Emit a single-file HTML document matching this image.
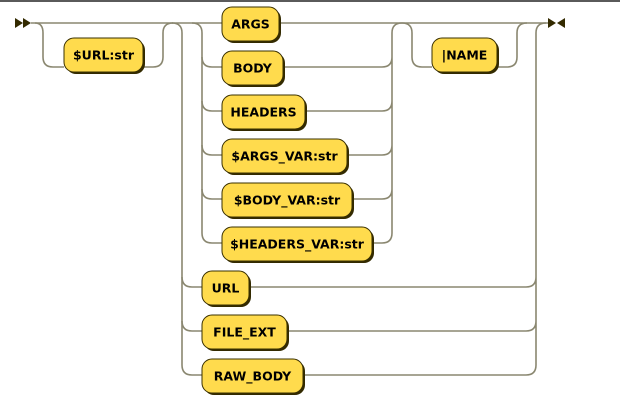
<!DOCTYPE html>
<html><head><style>
html,body{margin:0;padding:0;background:#fff;}
svg{display:block;}
text{font-family:"DejaVu Sans","Liberation Sans",sans-serif;font-weight:bold;font-size:12.5px;fill:#000;}
.l{fill:none;stroke:#8a8770;stroke-width:1.6;}
.b{fill:#ffdb4d;stroke:#3a3000;stroke-width:1;}
.s{fill:#332a00;}
</style></head><body>
<svg width="620" height="403" viewBox="0 0 620 403" xmlns="http://www.w3.org/2000/svg">
<rect x="0" y="0" width="620" height="2" fill="#5a5a5a"/>
<polygon points="15,18 23,23 15,28" fill="#332a00"/>
<polygon points="23,18 31,23 23,28" fill="#332a00"/>
<polygon points="548,18 556,23 548,28" fill="#332a00"/>
<polygon points="565,18 557,23 565,28" fill="#332a00"/>
<g class="l">
<path d="M31,23 H548"/>
<path d="M35,23 q8,0 8,10 v24 q0,10 10,10 h11 M143,67 h10 q10,0 10,-10 v-24 q0,-10 10,-10"/>
<path d="M172,23 q10,0 10,10 v332 q0,10 10,10 h10"/>
<path d="M182,277 q0,10 10,10 h10 M182,321 q0,10 10,10 h10"/>
<path d="M192,23 q10,0 10,10 v200 q0,10 10,10 h10"/>
<path d="M202,57 q0,10 10,10 h10 M202,101 q0,10 10,10 h10 M202,145 q0,10 10,10 h10 M202,189 q0,10 10,10 h10"/>
<path d="M283,67 H382 q10,0 10,-10 M305,111 H382 q10,0 10,-10 M347,155 H382 q10,0 10,-10 M352,199 H382 q10,0 10,-10 M372,243 H382 q10,0 10,-10 V33 q0,-10 10,-10"/>
<path d="M402,23 q10,0 10,10 v24 q0,10 10,10 h10 M497,67 h10 q10,0 10,-10 v-24 q0,-10 10,-10"/>
<path d="M249,287 H526 q10,0 10,-10 M287,331 H526 q10,0 10,-10 M303,375 H526 q10,0 10,-10 V33 q0,-10 10,-10"/>
</g>
<g>
<rect class="s" x="66" y="40" width="79" height="34" rx="10"/><rect class="b" x="64" y="38" width="79" height="34" rx="10"/><text x="103.5" y="59.5" text-anchor="middle">$URL:str</text>
<rect class="s" x="224" y="9" width="57" height="34" rx="10"/><rect class="b" x="222" y="7" width="57" height="34" rx="10"/><text x="250.5" y="28.5" text-anchor="middle">ARGS</text>
<rect class="s" x="224" y="53" width="61" height="34" rx="10"/><rect class="b" x="222" y="51" width="61" height="34" rx="10"/><text x="252.5" y="72.5" text-anchor="middle">BODY</text>
<rect class="s" x="224" y="97" width="83" height="34" rx="10"/><rect class="b" x="222" y="95" width="83" height="34" rx="10"/><text x="263.5" y="116.5" text-anchor="middle">HEADERS</text>
<rect class="s" x="224" y="141" width="125" height="34" rx="10"/><rect class="b" x="222" y="139" width="125" height="34" rx="10"/><text x="284.5" y="160.5" text-anchor="middle">$ARGS_VAR:str</text>
<rect class="s" x="224" y="185" width="130" height="34" rx="10"/><rect class="b" x="222" y="183" width="130" height="34" rx="10"/><text x="287" y="204.5" text-anchor="middle">$BODY_VAR:str</text>
<rect class="s" x="224" y="229" width="150" height="34" rx="10"/><rect class="b" x="222" y="227" width="150" height="34" rx="10"/><text x="297" y="248.5" text-anchor="middle">$HEADERS_VAR:str</text>
<rect class="s" x="434" y="40" width="65" height="34" rx="10"/><rect class="b" x="432" y="38" width="65" height="34" rx="10"/><text x="464.5" y="59.5" text-anchor="middle">|NAME</text>
<rect class="s" x="204" y="273" width="47" height="34" rx="10"/><rect class="b" x="202" y="271" width="47" height="34" rx="10"/><text x="225.5" y="292.5" text-anchor="middle">URL</text>
<rect class="s" x="204" y="317" width="85" height="34" rx="10"/><rect class="b" x="202" y="315" width="85" height="34" rx="10"/><text x="244.5" y="336.5" text-anchor="middle">FILE_EXT</text>
<rect class="s" x="204" y="361" width="101" height="34" rx="10"/><rect class="b" x="202" y="359" width="101" height="34" rx="10"/><text x="252.5" y="380.5" text-anchor="middle">RAW_BODY</text>
</g>
</svg>
</body></html>
